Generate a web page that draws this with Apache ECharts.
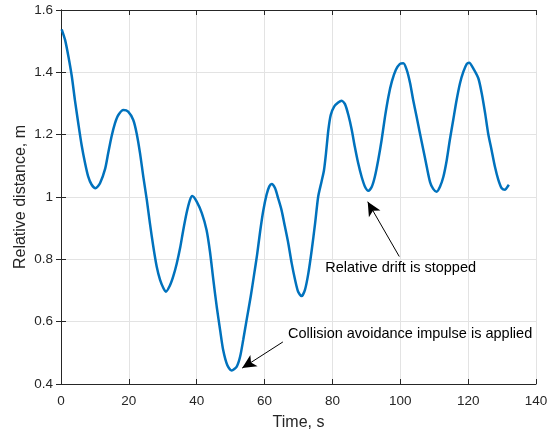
<!DOCTYPE html>
<html>
<head>
<meta charset="utf-8">
<script src="https://cdn.jsdelivr.net/npm/echarts@6/dist/echarts.min.js"></script>
<style>html,body{margin:0;padding:0;background:#fff;}#c{width:552px;height:433px;}</style>
</head>
<body>
<div id="c"></div>
<script>
const timeS = [0.2, 1.2, 2.2, 3.2, 4.1, 5.1, 6.1, 7.1, 8.0, 9.0, 10.2, 11.5, 13.0, 13.9, 14.9, 15.9, 16.9, 18.4, 19.8, 21.3, 22.3, 23.3, 24.3, 25.3, 26.2, 27.2, 28.2, 29.2, 30.2, 30.9, 32.1, 33.1, 34.1, 35.1, 36.0, 37.0, 38.0, 38.7, 40.0, 41.5, 42.9, 43.9, 44.9, 45.9, 46.9, 47.8, 49.0, 50.3, 51.8, 52.8, 53.7, 54.7, 55.9, 56.9, 57.8, 58.7, 59.6, 60.6, 61.4, 62.1, 63.1, 64.0, 65.0, 66.0, 67.0, 68.0, 69.0, 69.9, 70.9, 71.9, 72.9, 73.9, 74.9, 75.8, 76.8, 77.5, 78.1, 78.8, 79.5, 80.5, 81.7, 82.7, 83.7, 84.7, 85.7, 86.6, 87.6, 88.6, 89.6, 90.6, 91.6, 92.5, 93.5, 94.5, 95.5, 96.5, 97.5, 98.7, 99.9, 100.9, 101.9, 102.9, 103.8, 104.8, 105.8, 106.8, 107.8, 108.8, 109.7, 110.7, 111.7, 112.7, 113.7, 114.6, 115.6, 116.6, 117.6, 118.6, 119.6, 120.3, 121.5, 123.0, 124.0, 125.0, 125.9, 126.9, 127.9, 128.9, 129.9, 130.9, 131.6, 132.0];
const distance = [1.538, 1.504, 1.450, 1.386, 1.311, 1.236, 1.165, 1.108, 1.066, 1.040, 1.028, 1.044, 1.090, 1.140, 1.194, 1.236, 1.263, 1.279, 1.274, 1.247, 1.204, 1.140, 1.062, 0.990, 0.916, 0.841, 0.777, 0.734, 0.707, 0.696, 0.716, 0.746, 0.786, 0.836, 0.892, 0.948, 0.990, 1.003, 0.985, 0.948, 0.894, 0.825, 0.734, 0.648, 0.573, 0.509, 0.461, 0.443, 0.456, 0.488, 0.541, 0.605, 0.680, 0.750, 0.815, 0.890, 0.955, 1.008, 1.034, 1.042, 1.028, 0.996, 0.958, 0.905, 0.851, 0.787, 0.734, 0.696, 0.682, 0.702, 0.755, 0.830, 0.916, 1.001, 1.050, 1.085, 1.140, 1.215, 1.263, 1.290, 1.303, 1.309, 1.298, 1.263, 1.215, 1.161, 1.108, 1.065, 1.033, 1.020, 1.033, 1.065, 1.119, 1.183, 1.258, 1.322, 1.370, 1.408, 1.427, 1.429, 1.408, 1.365, 1.311, 1.258, 1.204, 1.151, 1.097, 1.047, 1.026, 1.017, 1.033, 1.065, 1.119, 1.183, 1.247, 1.311, 1.365, 1.402, 1.427, 1.431, 1.413, 1.381, 1.333, 1.269, 1.204, 1.151, 1.097, 1.055, 1.028, 1.023, 1.033, 1.039];
const xTicks = [0, 20, 40, 60, 80, 100, 120, 140];
const yTicks = [0.4, 0.6, 0.8, 1.0, 1.2, 1.4, 1.6];
const annotTexts = ['Collision avoidance impulse is applied', 'Relative drift is stopped'];
// arrows: [from, to] in data coordinates
const annotArrows = [[[65.4, 0.535], [53.4, 0.451]], [[99.7, 0.809], [90.4, 0.985]]];
const annotTextPos = [[66.9, 0.560], [77.9, 0.771]];

const FONT = 'Liberation Sans, Arial, Helvetica, sans-serif';
const AX = '#262626';
const chart = echarts.init(document.getElementById('c'), null, {renderer: 'canvas'});
const pts = timeS.map((t, i) => [t, distance[i]]);
const axisCommon = {
  axisLine: {show: true, lineStyle: {color: AX, width: 1}},
  axisTick: {show: true, inside: true, length: 5, lineStyle: {color: AX}},
};
chart.setOption({
  animation: false,
  grid: {left: 61, top: 10, right: 16, bottom: 49, containLabel: false, outerBoundsMode: 'none'},
  xAxis: [{
    type: 'value', min: xTicks[0], max: xTicks[xTicks.length - 1], interval: 20,
    name: 'Time, s', nameLocation: 'middle', nameGap: 31, nameMoveOverlap: false,
    nameTextStyle: {fontFamily: FONT, fontSize: 16, color: AX},
    axisLabel: {fontFamily: FONT, fontSize: 13.5, color: AX, margin: 10},
    splitLine: {show: true, lineStyle: {color: '#e3e3e3'}},
    ...axisCommon
  }, {
    type: 'value', position: 'top', min: 0, max: 140, interval: 20,
    axisLabel: {show: false}, splitLine: {show: false}, ...axisCommon
  }],
  yAxis: [{
    type: 'value', min: yTicks[0], max: yTicks[yTicks.length - 1], interval: 0.2,
    name: 'Relative distance, m', nameLocation: 'middle', nameGap: 32, nameMoveOverlap: false,
    nameTextStyle: {fontFamily: FONT, fontSize: 16, color: AX},
    axisLabel: {fontFamily: FONT, fontSize: 13.5, color: AX, margin: 8,
      formatter: v => (Math.abs(v - 1) < 1e-9 ? '1' : v.toFixed(1))},
    splitLine: {show: true, lineStyle: {color: '#e3e3e3'}},
    ...axisCommon
  }, {
    type: 'value', position: 'right', min: 0.4, max: 1.6, interval: 0.2,
    axisLabel: {show: false}, splitLine: {show: false}, ...axisCommon
  }],
  series: [{
    type: 'line', data: pts, showSymbol: false, smooth: 0.25,
    lineStyle: {color: '#0072BD', width: 2.5}, z: 3,
    markLine: {
      silent: true, symbol: ['none', 'arrow'], symbolSize: [10, 14],
      lineStyle: {color: '#000', width: 1, type: 'solid'},
      label: {show: false},
      data: annotArrows.map(a => [{coord: a[0]}, {coord: a[1]}])
    }
  }]
});
const g = annotTexts.map((txt, i) => {
  const p = chart.convertToPixel({xAxisIndex: 0, yAxisIndex: 0}, annotTextPos[i]);
  return {type: 'text', x: p[0], y: p[1], z: 10,
    style: {text: txt, fill: '#000', font: '14.5px ' + FONT, textAlign: 'left', textVerticalAlign: 'middle'}};
});
chart.setOption({graphic: g});
</script>
</body>
</html>
